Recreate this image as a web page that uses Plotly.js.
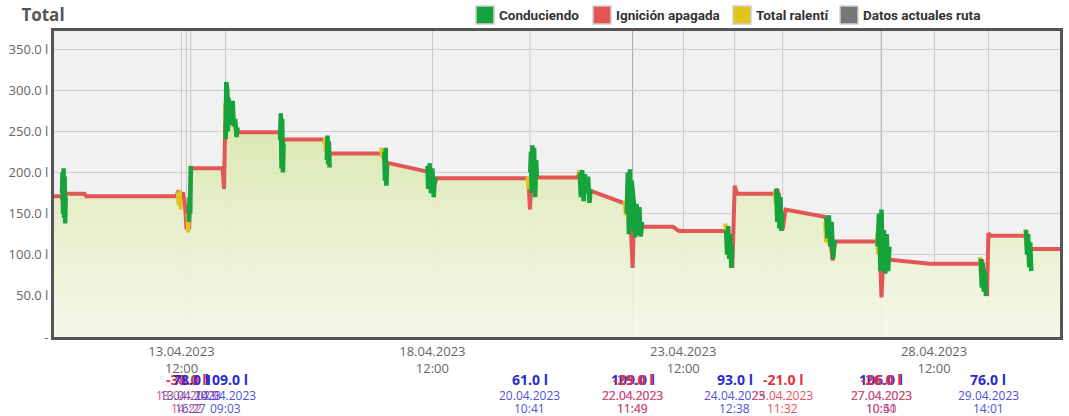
<!DOCTYPE html>
<html>
<head>
<meta charset="utf-8">
<script src="https://cdn.plot.ly/plotly-3.0.1.min.js"></script>
<style>html,body{margin:0;padding:0;background:#fff;}#chart{width:1069px;height:416px;}</style>
</head>
<body>
<div id="chart"></div>
<script>
// ---- Fuel level (ignition off / base line) ----
const fuelTime = ["2023-04-10 23:00","2023-04-11 02:40","2023-04-11 03:30","2023-04-11 04:40","2023-04-11 13:30","2023-04-11 14:30",
"2023-04-13 09:30","2023-04-13 10:40","2023-04-13 11:40","2023-04-13 12:40","2023-04-13 13:40","2023-04-13 14:22","2023-04-13 15:40","2023-04-13 16:27",
"2023-04-14 07:40","2023-04-14 08:20","2023-04-14 09:03","2023-04-14 10:00","2023-04-14 11:00","2023-04-14 12:00","2023-04-14 13:30","2023-04-14 14:30",
"2023-04-15 11:00","2023-04-15 12:00","2023-04-15 13:00","2023-04-16 08:00","2023-04-16 09:30","2023-04-16 10:40",
"2023-04-17 11:30","2023-04-17 12:30","2023-04-17 14:00","2023-04-18 09:30","2023-04-18 11:00","2023-04-18 13:00","2023-04-18 14:10",
"2023-04-20 09:00","2023-04-20 10:00","2023-04-20 10:41","2023-04-20 11:30","2023-04-20 14:00",
"2023-04-21 09:00","2023-04-21 11:00","2023-04-21 14:00","2023-04-21 15:20","2023-04-21 16:30",
"2023-04-22 07:20","2023-04-22 10:30","2023-04-22 11:49","2023-04-22 12:30","2023-04-22 14:00","2023-04-22 16:00",
"2023-04-23 07:00","2023-04-23 10:00","2023-04-24 08:00","2023-04-24 10:00","2023-04-24 11:30","2023-04-24 12:38","2023-04-24 13:40",
"2023-04-25 07:50","2023-04-25 09:00","2023-04-25 10:40","2023-04-25 11:32","2023-04-25 13:00",
"2023-04-26 07:40","2023-04-26 09:30","2023-04-26 11:30","2023-04-26 12:40",
"2023-04-27 08:30","2023-04-27 10:00","2023-04-27 10:51","2023-04-27 12:00","2023-04-27 14:50",
"2023-04-28 10:00","2023-04-29 09:50","2023-04-29 11:00","2023-04-29 13:20","2023-04-29 14:01","2023-04-29 15:00",
"2023-04-30 07:30","2023-04-30 09:00","2023-04-30 10:40","2023-05-01 00:15"];
const fuelLevel = [171,171,160,174,174,171,
171,178,170,176,160,133,133,205,
205,180,283,270,278,262,258,249,
249,232,240,240,230,223,
223,218,212,201,198,186,193,
193,190,155,196,194,
194,199,185,177,177,
163,158,84,150,140,134,
134,129,129,124,84,184,174,
174,180,160,130,155,
146,140,93,116,
116,112,48,110,94,
89,89,94,50,126,123,
123,112,107,107];

// ---- Driving (Conduciendo) ----
const drivingTime = ["2023-04-11 02:50","2023-04-11 03:05","2023-04-11 03:20","2023-04-11 03:35","2023-04-11 03:50","2023-04-11 04:05","2023-04-11 04:20","2023-04-11 04:35",null,
"2023-04-13 15:30","2023-04-13 15:50","2023-04-13 16:10","2023-04-13 16:27",null,
"2023-04-14 09:10","2023-04-14 09:25","2023-04-14 09:40","2023-04-14 09:55","2023-04-14 10:10","2023-04-14 10:30","2023-04-14 10:50","2023-04-14 11:30","2023-04-14 12:00","2023-04-14 12:30","2023-04-14 13:00","2023-04-14 13:40","2023-04-14 14:20","2023-04-14 14:50",null,
"2023-04-15 11:10","2023-04-15 11:30","2023-04-15 11:50","2023-04-15 12:10","2023-04-15 12:30","2023-04-15 12:50",null,
"2023-04-16 09:30","2023-04-16 09:50","2023-04-16 10:10","2023-04-16 10:30","2023-04-16 10:50",null,
"2023-04-17 13:00","2023-04-17 13:20","2023-04-17 13:40","2023-04-17 14:00","2023-04-17 14:20",null,
"2023-04-18 09:40","2023-04-18 10:00","2023-04-18 10:40","2023-04-18 11:20","2023-04-18 12:00","2023-04-18 12:40","2023-04-18 13:10",null,
"2023-04-20 10:50","2023-04-20 11:10","2023-04-20 11:30","2023-04-20 11:50","2023-04-20 12:10","2023-04-20 12:40","2023-04-20 13:10","2023-04-20 13:40","2023-04-20 14:00",null,
"2023-04-21 10:30","2023-04-21 11:00","2023-04-21 11:40","2023-04-21 12:20","2023-04-21 13:00","2023-04-21 13:40","2023-04-21 14:30","2023-04-21 15:10","2023-04-21 15:40",null,
"2023-04-22 09:00","2023-04-22 09:30","2023-04-22 10:00","2023-04-22 10:30","2023-04-22 11:00","2023-04-22 11:20","2023-04-22 12:30","2023-04-22 13:00","2023-04-22 13:40","2023-04-22 14:20","2023-04-22 15:00","2023-04-22 15:40","2023-04-22 16:20",null,
"2023-04-24 08:30","2023-04-24 09:00","2023-04-24 09:30","2023-04-24 10:00","2023-04-24 10:30","2023-04-24 11:00","2023-04-24 11:20",null,
"2023-04-25 08:30","2023-04-25 09:00","2023-04-25 09:30","2023-04-25 10:00","2023-04-25 10:30","2023-04-25 11:00","2023-04-25 11:20",null,
"2023-04-26 08:30","2023-04-26 09:00","2023-04-26 09:40","2023-04-26 10:20","2023-04-26 11:00","2023-04-26 11:40","2023-04-26 12:20",null,
"2023-04-27 09:00","2023-04-27 09:40","2023-04-27 10:20","2023-04-27 10:51","2023-04-27 11:20","2023-04-27 12:00","2023-04-27 12:40","2023-04-27 13:20","2023-04-27 14:00","2023-04-27 14:40",null,
"2023-04-29 10:20","2023-04-29 10:50","2023-04-29 11:20","2023-04-29 11:50","2023-04-29 12:20","2023-04-29 12:50",null,
"2023-04-30 08:00","2023-04-30 08:30","2023-04-30 09:00","2023-04-30 09:30","2023-04-30 10:00","2023-04-30 10:30"];
const drivingLevel = [175,200,150,205,145,195,138,170,null,
140,170,150,208,null,
240,310,245,300,250,291,262,280,258,287,256,265,243,255,null,
240,272,205,265,200,235,null,
215,245,210,238,206,null,
225,190,230,184,210,null,
208,180,211,175,205,170,195,null,
200,225,175,233,185,230,170,215,195,null,
200,170,203,165,198,175,195,163,180,null,
150,200,125,204,130,190,160,121,162,124,158,122,140,null,
130,100,135,95,125,84,110,null,
180,140,175,132,170,129,150,null,
145,120,148,110,140,95,118,null,
110,150,80,155,100,130,77,125,80,110,null,
95,60,90,55,80,50,null,
130,100,125,85,115,80];

// ---- Idle (Total ralentí) ----
const idleTime = ["2023-04-13 10:10","2023-04-13 10:40","2023-04-13 11:10","2023-04-13 11:40",null,
"2023-04-13 14:50","2023-04-13 15:10","2023-04-13 15:30",null,
"2023-04-14 08:50","2023-04-14 09:00","2023-04-14 09:15",null,
"2023-04-16 08:30","2023-04-16 09:00","2023-04-16 09:20",null,
"2023-04-17 11:30","2023-04-17 12:00","2023-04-17 12:30",null,
"2023-04-20 09:30","2023-04-20 10:00","2023-04-20 10:20",null,
"2023-04-20 11:40","2023-04-20 12:00",null,
"2023-04-21 10:00","2023-04-21 10:20","2023-04-21 10:50",null,
"2023-04-22 08:00","2023-04-22 08:30","2023-04-22 09:10",null,
"2023-04-24 08:10","2023-04-24 08:40","2023-04-24 09:10","2023-04-24 09:40",null,
"2023-04-25 07:50","2023-04-25 08:10","2023-04-25 08:20",null,
"2023-04-26 07:50","2023-04-26 08:20","2023-04-26 08:40",null,
"2023-04-27 08:40","2023-04-27 09:10","2023-04-27 09:30",null,
"2023-04-29 10:00","2023-04-29 10:30","2023-04-29 11:00","2023-04-29 11:30",null,
"2023-04-30 07:40","2023-04-30 08:10","2023-04-30 08:40","2023-04-30 09:10"];
const idleLevel = [176,160,178,155,null,
150,127,145,null,
262,285,265,null,
243,225,240,null,
230,218,228,null,
195,180,190,null,
228,220,null,
203,195,202,null,
165,148,160,null,
138,120,132,118,null,
178,162,176,null,
140,115,132,null,
125,100,118,null,
97,70,85,58,null,
131,110,120,104];

// ---- Events (refuel / drain) ----
const eventTime   = ["2023-04-13 14:22","2023-04-13 16:27","2023-04-14 09:03","2023-04-20 10:41","2023-04-22 11:49","2023-04-22 11:49","2023-04-24 12:38","2023-04-25 11:32","2023-04-27 10:51","2023-04-27 10:40","2023-04-29 14:01"];
const eventAmount = [-38.0, 78.0, 109.0, 61.0, 109.0, -29.0, 93.0, -21.0, 106.0, -26.0, 76.0];
const eventDate   = ["13.04.2023","13.04.2023","14.04.2023","20.04.2023","22.04.2023","22.04.2023","24.04.2023","25.04.2023","27.04.2023","27.04.2023","29.04.2023"];
const eventHour   = ["14:22","16:27","09:03","10:41","11:49","11:49","12:38","11:32","10:51","10:40","14:01"];

// ---- Axes ----
const xTickVals = ["2023-04-13 12:00","2023-04-18 12:00","2023-04-23 12:00","2023-04-28 12:00"];
const xTickText = ["13.04.2023<br>12:00","18.04.2023<br>12:00","23.04.2023<br>12:00","28.04.2023<br>12:00"];
const yTickVals = [0,50,100,150,200,250,300,350];
const yTickText = ["-","50.0 l","100.0 l","150.0 l","200.0 l","250.0 l","300.0 l","350.0 l"];

// ---- Legend ----
const legendNames  = ["Conduciendo","Ignición apagada","Total ralentí","Datos actuales ruta"];
const legendColors = ["#17a33b","#e35656","#e2c51c","#777777"];

const FONT = "'Open Sans', 'Liberation Sans', sans-serif";
const W = 1069, H = 416, ML = 54, MR = 9, MT = 31, MB = 79;
const PW = W - ML - MR, PH = H - MT - MB;
const px2x = p => (p - ML) / PW;
const px2y = p => (H - MB - p) / PH;

const traces = [
  {x: fuelTime, y: fuelLevel, type:'scatter', mode:'lines', line:{width:0, color:'rgba(0,0,0,0)'},
   fill:'tozeroy', fillgradient:{type:'vertical', start:0, stop:300,
     colorscale:[[0,'rgba(246,249,232,0.9)'],[0.55,'rgba(228,237,196,0.9)'],[1,'rgba(212,228,160,0.9)']]},
   showlegend:false, hoverinfo:'skip'},
  {x: fuelTime, y: fuelLevel, type:'scatter', mode:'lines', name:legendNames[1], line:{color:legendColors[1], width:4}, showlegend:false},
  {x: idleTime, y: idleLevel, type:'scatter', mode:'lines', name:legendNames[2], line:{color:legendColors[2], width:4}, connectgaps:false, showlegend:false},
  {x: drivingTime, y: drivingLevel, type:'scatter', mode:'lines', name:legendNames[0], line:{color:legendColors[0], width:4.5}, connectgaps:false, showlegend:false}
];

const shapes = eventTime.map(t => ({type:'line', xref:'x', yref:'paper', x0:t, x1:t, y0:0, y1:1,
  line:{color:'rgba(0,0,0,0.17)', width:1}, layer:'below'}));

const annotations = [];
eventTime.forEach((t,i)=>{
  const neg = eventAmount[i] < 0;
  const cv = neg ? '#e0303f' : '#2a2ad0';
  const cd = neg ? '#e8505c' : '#5050e0';
  annotations.push({xref:'x', yref:'paper', x:t, y:0, yanchor:'middle', yshift:-42, showarrow:false,
    text:'<b>'+eventAmount[i].toFixed(1)+' l</b>', font:{family:FONT, size:14, color:cv}});
  annotations.push({xref:'x', yref:'paper', x:t, y:0, yanchor:'middle', yshift:-58, showarrow:false,
    text:eventDate[i], font:{family:FONT, size:12, color:cd}});
  annotations.push({xref:'x', yref:'paper', x:t, y:0, yanchor:'middle', yshift:-71, showarrow:false,
    text:eventHour[i], font:{family:FONT, size:12, color:cd}});
});

// manual legend (boxes + labels) laid out like the reference
const legendBoxLeft = [476, 593, 733, 840];
legendNames.forEach((n,i)=>{
  const x0 = legendBoxLeft[i];
  shapes.push({type:'rect', xref:'paper', yref:'paper', x0:px2x(x0), x1:px2x(x0+18), y0:px2y(24), y1:px2y(6),
    fillcolor:legendColors[i], line:{color:'#d0d0d0', width:1.5}, layer:'above'});
  annotations.push({xref:'paper', yref:'paper', x:px2x(x0+21), y:px2y(15), xanchor:'left', yanchor:'middle',
    showarrow:false, text:n, font:{family:"Roboto, 'Liberation Sans', sans-serif", size:13.5, color:'#333', weight:'bold'}});
});

const layout = {
  width:W, height:H,
  margin:{l:ML, r:MR, t:MT, b:MB, autoexpand:false},
  paper_bgcolor:'#ffffff', plot_bgcolor:'#f1f1f1',
  font:{family:FONT, color:'#666'},
  title:{text:'<b>Total</b>', x:0.02, xanchor:'left', xref:'container', y:0.963, yanchor:'middle', yref:'container',
    font:{family:FONT, size:17, color:'#555'}},
  showlegend:false,
  xaxis:{type:'date', range:["2023-04-10 23:00","2023-05-01 00:15"], tickvals:xTickVals, ticktext:xTickText,
    showgrid:true, gridcolor:'#c8c8c8', gridwidth:1, ticks:'', zeroline:false,
    showline:true, mirror:true, linecolor:'#555', linewidth:3,
    tickfont:{family:FONT, size:13, color:'#666'}, fixedrange:true},
  yaxis:{range:[0,372], tickvals:yTickVals, ticktext:yTickText, showgrid:true, gridcolor:'#cfcfcf', gridwidth:1,
    ticks:'', zeroline:false, showline:true, mirror:true, linecolor:'#555', linewidth:3,
    tickfont:{family:FONT, size:13, color:'#666'}, fixedrange:true},
  shapes:shapes,
  annotations:annotations
};

Plotly.newPlot('chart', traces, layout, {displayModeBar:false, staticPlot:true});
</script>
</body>
</html>
